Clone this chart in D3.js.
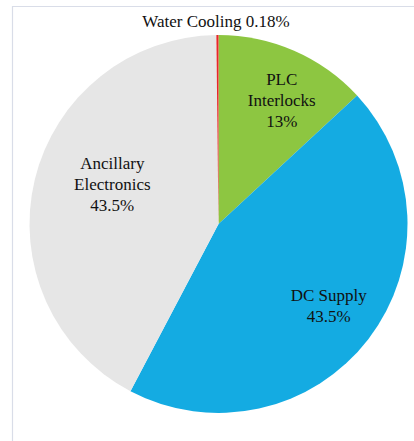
<!DOCTYPE html>
<html>
<head>
<meta charset="utf-8">
<script src="https://cdn.jsdelivr.net/npm/d3@7"></script>
<style>
  html, body { margin: 0; padding: 0; background: #fff; }
</style>
</head>
<body>
<div id="chart"></div>
<script>
// slice data, clockwise from 12 o'clock
var categories = ["PLC Interlocks", "DC Supply", "Ancillary Electronics", "Water Cooling"];
var shares = [13.1, 44.6, 42.1, 0.18];
var labelLines = [["PLC", "Interlocks", "13%"], ["DC Supply", "43.5%"], ["Ancillary", "Electronics", "43.5%"], ["Water Cooling 0.18%"]];
var colors = ["#8dc641", "#14abe2", "#e6e6e6", "#e8262b"];

var svgWidth = 414;
var svgHeight = 441;

var cx = 218.5,
    cy = 224,
    radius = 189;

var svg = d3.select("#chart")
  .append("svg")
  .attr("width", svgWidth)
  .attr("height", svgHeight);

// chart frame
svg.append("path")
  .attr("d", "M12.5," + svgHeight + "V6.5H" + svgWidth)
  .attr("fill", "none")
  .attr("stroke", "#d9dde8")
  .attr("stroke-width", 1.2);

var chartGroup = svg.append("g")
  .attr("transform", `translate(${cx}, ${cy})`);

var pie = d3.pie()
  .sort(null)
  .value(d => d)
  .startAngle(0)
  .endAngle(2 * Math.PI);

var arcs = pie(shares);

var arc = d3.arc()
  .innerRadius(0)
  .outerRadius(radius);

chartGroup.selectAll("path.slice")
  .data(arcs)
  .enter()
  .append("path")
  .classed("slice", true)
  .attr("d", arc)
  .attr("fill", (d, i) => colors[i]);

// label placement: fraction of radius and angle nudge (degrees)
var labelPlace = [
  { k: 0.735, nudge: 3.5 },
  { k: 0.725, nudge: -1 },
  { k: 0.6, nudge: 7 },
  { k: 1.05, nudge: 0 }
];
var lineHeight = 21;

var labels = chartGroup.selectAll("text.lbl")
  .data(arcs)
  .enter()
  .append("text")
  .classed("lbl", true)
  .attr("text-anchor", "middle")
  .attr("font-family", "'Liberation Serif', 'Times New Roman', Tinos, 'DejaVu Serif', serif")
  .attr("font-size", "17px")
  .attr("fill", "#111")
  .attr("transform", function(d, i) {
    var p = labelPlace[i];
    var a = (d.startAngle + d.endAngle) / 2 + p.nudge * Math.PI / 180;
    var r = radius * p.k;
    if (i === 3) {
      // outside label above the pie
      return `translate(-2.5, ${-radius - 14})`;
    }
    return `translate(${r * Math.sin(a)}, ${-r * Math.cos(a)})`;
  });

labels.each(function(d, i) {
  var lines = labelLines[i];
  var t = d3.select(this);
  var offset = -(lines.length - 1) * lineHeight / 2;
  lines.forEach(function(line, j) {
    t.append("tspan")
      .attr("x", 0)
      .attr("y", offset + j * lineHeight)
      .attr("dy", "0.35em")
      .text(line);
  });
});
</script>
</body>
</html>
